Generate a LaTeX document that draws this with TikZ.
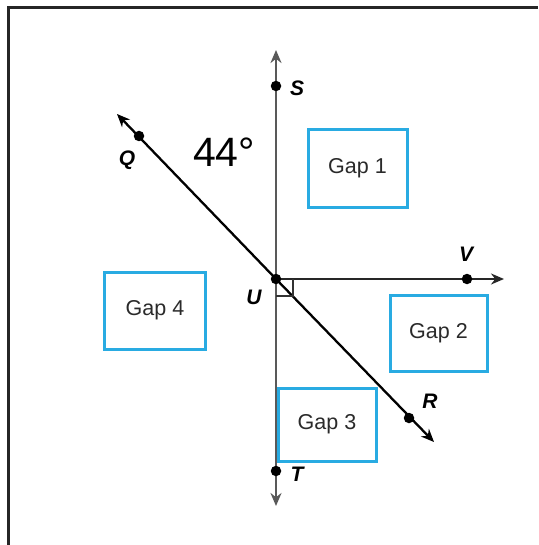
\documentclass[tikz,border=0pt]{standalone}
\usepackage{fontspec}
\setmainfont{Liberation Sans}
\usetikzlibrary{arrows.meta}
\definecolor{gapblue}{HTML}{29ABE2}
\definecolor{gaptext}{HTML}{2A2A2A}
\tikzset{
  gapbox/.style={draw=gapblue, line width=3pt, fill=white, inner sep=0pt, font=\fontsize{21.5}{24}\selectfont, text=gaptext},
  ptlabel/.style={font=\fontsize{21}{24}\selectfont\bfseries\itshape, inner sep=0pt},
  ptdot/.style={circle, fill=black, inner sep=0pt, minimum size=10.5pt},
  ray/.style={line width=2.3pt, -{Stealth[length=13pt,width=11pt]}},
}
\begin{document}
\begin{tikzpicture}[x=1pt,y=-1pt]
\useasboundingbox (0,0) rectangle (538,545);
\fill[white] (0,0) rectangle (538,545);
% frame
\draw[line width=3pt, black!85] (8,545) -- (8,8) -- (538,8);
% points
\coordinate (U) at (276,279);
\coordinate (Stip) at (276,50);
\coordinate (Ttip) at (276,506);
\coordinate (Vtip) at (504,279);
\coordinate (Qtip) at (117,114);
\coordinate (Rtip) at (434,442);
% boxes
\node[gapbox, minimum width=99pt, minimum height=77pt] (g1) at (357.5,168.5) {Gap 1};
\node[gapbox, minimum width=97pt, minimum height=76pt] (g2) at (438.5,333) {Gap 2};
\node[gapbox, minimum width=98pt, minimum height=73pt] (g3) at (327,424.5) {Gap 3};
\node[gapbox, minimum width=101pt, minimum height=77pt] (g4) at (155,310.5) {Gap 4};
% lines
\draw[ray, black!65] (U) -- (Stip);
\draw[ray, black!65] (U) -- (Ttip);
\draw[ray, black!85] (U) -- (Vtip);
\draw[ray] (U) -- (Qtip);
\draw[ray] (U) -- (Rtip);
% right angle
\draw[line width=1.6pt, black!80] (276,296) -- (293,296) -- (293,279);
% dots
\node[ptdot] (S) at (276,86) {};
\node[ptdot] (T) at (276,471) {};
\node[ptdot] (V) at (467,279) {};
\node[ptdot] (Q) at (139,136) {};
\node[ptdot] (R) at (409,418) {};
\node[ptdot] (Ud) at (U) {};
% labels
\node[ptlabel] (Sl) at (297,88) {S};
\node[ptlabel] (Tl) at (297,474) {T};
\node[ptlabel] (Vl) at (466,254) {V};
\node[ptlabel] (Ql) at (127,160) {Q};
\node[ptlabel] (Rl) at (430,401) {R};
\node[ptlabel] (Ul) at (254,297) {U};
\node[font=\fontsize{41}{44}\selectfont, inner sep=0pt] (ang) at (224,152) {44°};
\end{tikzpicture}
\end{document}
